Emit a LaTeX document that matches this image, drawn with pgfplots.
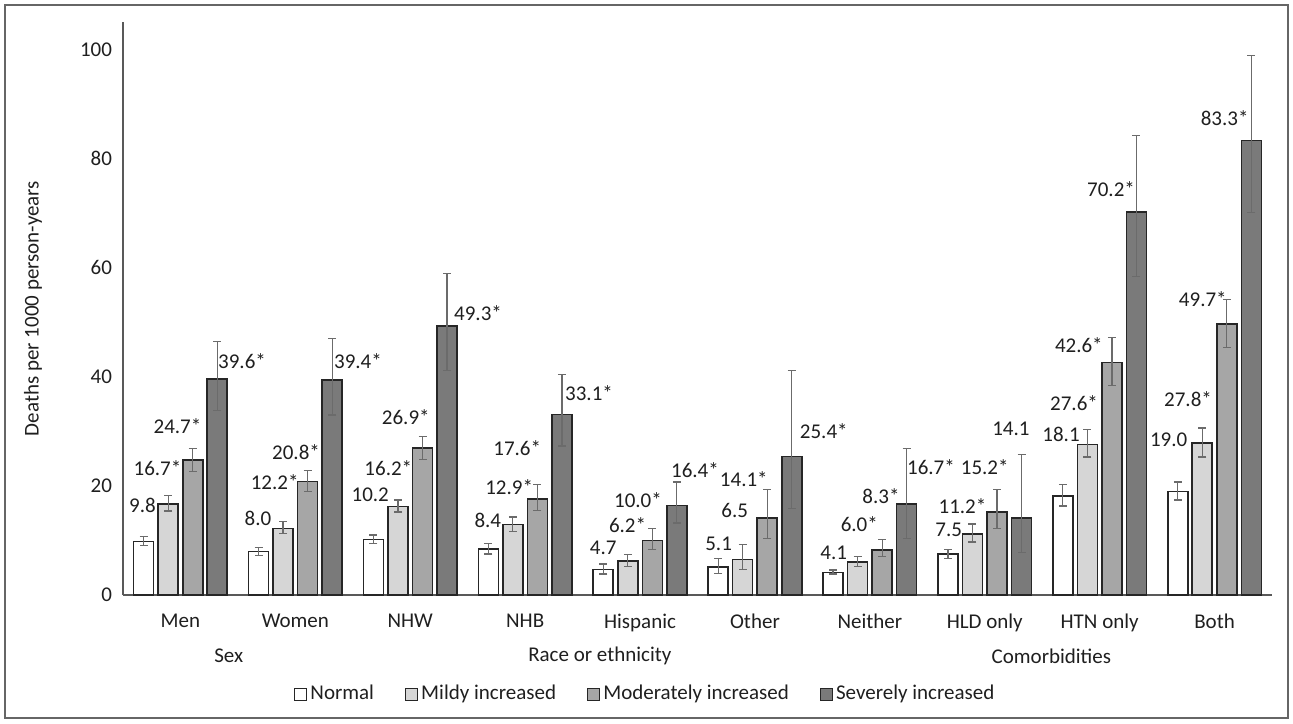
\documentclass[border=0pt]{standalone}
\usepackage{fontspec}
\setmainfont{Carlito}
\usepackage{pgfplots}
\pgfplotsset{compat=1.18}
\usepackage{pgfplotstable}

\definecolor{cMild}{HTML}{D6D6D6}
\definecolor{cMod}{HTML}{A6A6A6}
\definecolor{cSev}{HTML}{7A7A7A}
\definecolor{cEdge}{HTML}{262626}
\definecolor{cErr}{HTML}{6B6B6B}
\definecolor{cTxt}{HTML}{1F1F1F}
\definecolor{cAxis}{HTML}{595959}

% x = category index, y = rate, ep/em = upper/lower error
\pgfplotstableread{
x y ep em
0 9.8 0.9 0.75
1 8.0 0.7 0.8
2 10.2 0.8 0.7
3 8.4 1.0 0.9
4 4.7 1.0 0.85
5 5.1 1.6 1.2
6 4.1 0.5 0.25
7 7.5 0.8 0.8
8 18.1 2.1 1.8
9 19.0 1.7 1.6
}\tNormal
\pgfplotstableread{
x y ep em
0 16.7 1.5 1.3
1 12.2 1.2 1.0
2 16.2 1.2 1.0
3 12.9 1.4 1.2
4 6.2 1.2 1.0
5 6.5 2.7 1.8
6 6.0 1.0 0.8
7 11.2 1.8 1.5
8 27.6 2.7 2.3
9 27.8 2.8 2.5
}\tMild
\pgfplotstableread{
x y ep em
0 24.7 2.2 2.1
1 20.8 2.0 1.8
2 26.9 2.1 2.0
3 17.6 2.6 2.1
4 10.0 2.2 1.7
5 14.1 5.2 3.7
6 8.3 1.8 1.3
7 15.2 4.2 3.0
8 42.6 4.6 4.2
9 49.7 4.4 4.3
}\tMod
\pgfplotstableread{
x y ep em
0 39.6 6.8 5.8
1 39.4 7.6 6.4
2 49.3 9.6 8.2
3 33.1 7.3 5.8
4 16.4 4.3 3.2
5 25.4 15.8 9.6
6 16.7 10.2 6.3
7 14.1 11.6 6.3
8 70.2 14.0 11.8
9 83.3 15.5 13.2
}\tSev
% data label positions
\pgfplotstableread{
x y label
-0.330 16.5 9.8
-0.200 23.2 16.7*
-0.026 30.9 24.7*
0.536 42.8 39.6*
0.675 14.1 8.0
0.820 20.6 12.2*
1.006 26.1 20.8*
1.545 42.8 39.4*
1.652 18.3 10.2
1.809 23.2 16.2*
1.961 32.6 26.9*
2.590 51.6 49.3*
2.675 13.6 8.4
2.861 19.7 12.9*
2.931 27.0 17.6*
3.556 37.0 33.1*
3.680 8.6 4.7
3.891 12.8 6.2*
3.982 17.4 10.0*
4.478 22.8 16.4*
4.684 9.3 5.1
4.824 15.5 6.5
4.903 21.3 14.1*
5.599 30.1 25.4*
5.686 7.8 4.1
5.908 13.0 6.0*
6.097 18.2 8.3*
6.532 23.5 16.7*
6.686 11.9 7.5
6.806 16.3 11.2*
7.000 23.4 15.2*
7.228 30.4 14.1
7.664 29.4 18.1
7.777 35.2 27.6*
7.819 45.7 42.6*
8.099 74.4 70.2*
8.601 28.4 19.0
8.769 35.9 27.8*
8.898 54.3 49.7*
9.088 87.3 83.3*
}\tLabels

\begin{document}
\begin{tikzpicture}[font=\fontsize{10.5}{12.6}\selectfont]
\begin{axis}[
  scale only axis,
  width=574.5pt, height=286.5pt,
  ybar,
  bar width=0.174,
  xmin=-0.5, xmax=9.5,
  ymin=0, ymax=105,
  axis x line*=bottom, axis y line*=left,
  axis line style={cAxis, line width=0.75pt},
  xtick={0,...,9},
  xticklabels={Men,Women,NHW,NHB,Hispanic,Other,Neither,HLD only,HTN only,Both},
  ytick={0,20,...,100},
  major tick length=0pt,
  /pgf/number format/assume math mode=true,
  ticklabel style={font=\fontsize{10.5}{12.6}\selectfont, text=cTxt},
  xticklabel style={yshift=-6pt},
  yticklabel style={xshift=-2pt},
  ylabel={Deaths per 1000 person-years},
  ylabel style={at={(axis description cs:-0.0783,0.5)}, anchor=center, text=cTxt},
  clip=false,
  legend columns=4,
  legend cell align=left,
  legend image code/.code={\draw[#1, line width=0.6pt] (0pt,-3pt) rectangle (6pt,3pt);},
  legend style={at={(0.455,-0.173)}, anchor=center, draw=none, fill=none,
    font=\fontsize{10.5}{12.6}\selectfont, text=cTxt,
    /tikz/every even column/.append style={column sep=14pt},
    nodes={inner sep=1.5pt}},
  error bars/error bar style={cErr, line width=0.6pt},
  error bars/error mark options={rotate=90, mark size=2pt, cErr, line width=0.6pt},
]
\addplot[bar shift=-0.32, fill=white, draw=cEdge, line width=0.8pt,
  error bars/.cd, y dir=both, y explicit]
  table[x=x, y=y, y error plus=ep, y error minus=em] {\tNormal};
\addlegendentry{Normal}
\addplot[bar shift=-0.107, fill=cMild, draw=cEdge, line width=0.8pt,
  error bars/.cd, y dir=both, y explicit]
  table[x=x, y=y, y error plus=ep, y error minus=em] {\tMild};
\addlegendentry{Mildy increased}
\addplot[bar shift=0.107, fill=cMod, draw=cEdge, line width=0.8pt,
  error bars/.cd, y dir=both, y explicit]
  table[x=x, y=y, y error plus=ep, y error minus=em] {\tMod};
\addlegendentry{Moderately increased}
\addplot[bar shift=0.32, fill=cSev, draw=cEdge, line width=0.8pt,
  error bars/.cd, y dir=both, y explicit]
  table[x=x, y=y, y error plus=ep, y error minus=em] {\tSev};
\addlegendentry{Severely increased}

\addplot[forget plot, sharp plot, bar shift=0, draw=none, mark=none,
  nodes near coords, point meta=explicit symbolic, nodes near coords align=center,
  every node near coord/.append style={font=\fontsize{10.5}{12.6}\selectfont, text=cTxt, inner sep=0pt, yshift=0pt}]
  table[x=x, y=y, meta=label] {\tLabels};

\node[text=cTxt] at (axis cs:0.42,0) [yshift=-30.5pt] {Sex};
\node[text=cTxt] at (axis cs:3.65,0) [yshift=-30.5pt] {Race or ethnicity};
\node[text=cTxt] at (axis cs:7.58,0) [yshift=-30.5pt] {Comorbidities};

\coordinate (O) at (rel axis cs:0,0);
\end{axis}
\pgfresetboundingbox
\draw[gray!80!black, line width=0.6pt] ([shift={(-59pt,-61.5pt)}]O) rectangle ([shift={(582.5pt,295pt)}]O);
\path[use as bounding box] ([shift={(-61.5pt,-64pt)}]O) rectangle ([shift={(585pt,297.5pt)}]O);
\end{tikzpicture}
\end{document}
